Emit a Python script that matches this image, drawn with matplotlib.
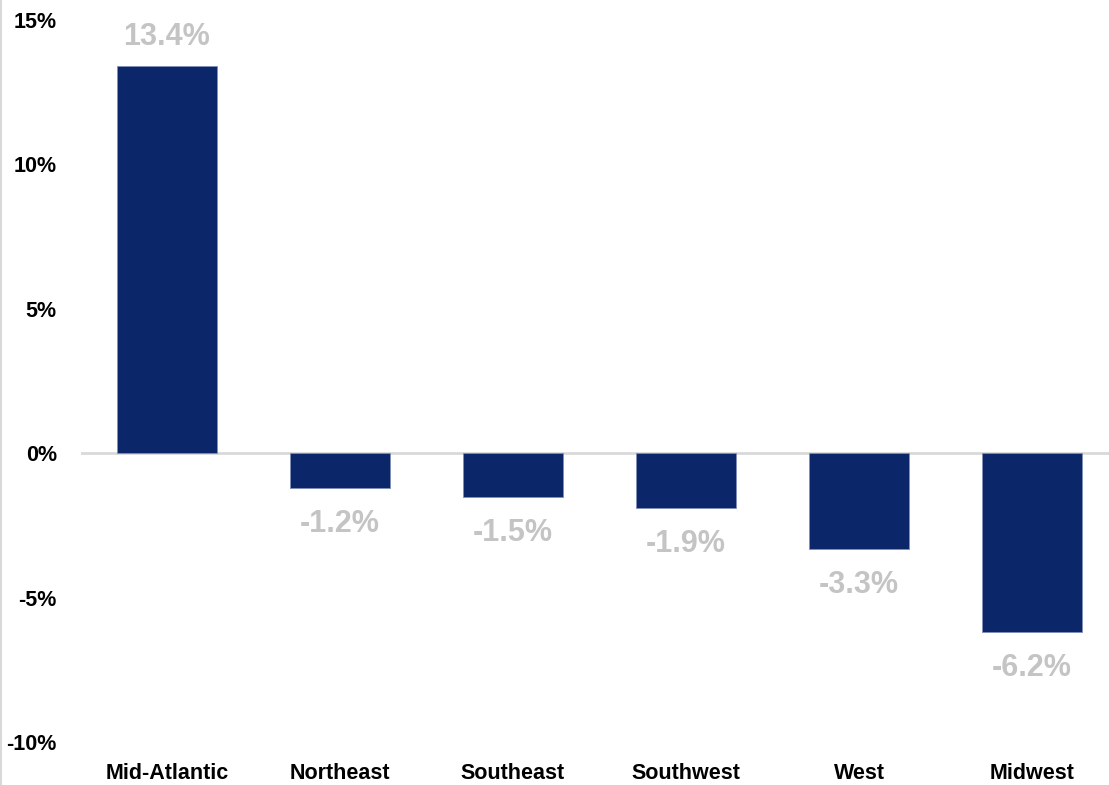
import matplotlib.pyplot as plt
from matplotlib.lines import Line2D

# data
regions = ["Mid-Atlantic", "Northeast", "Southeast", "Southwest", "West", "Midwest"]
changes = [13.4, -1.2, -1.5, -1.9, -3.3, -6.2]
y_ticks = [-10, -5, 0, 5, 10, 15]

plt.rcParams["font.family"] = ["Liberation Sans Narrow", "Liberation Sans", "DejaVu Sans"]

fig = plt.figure(figsize=(11.09, 7.85), dpi=100)
ax = fig.add_axes([80.5 / 1109, 43 / 785, 1038 / 1109, 722 / 785])

x = range(len(regions))
bars = ax.bar(x, changes, width=0.58, color="#0c2769", edgecolor="#7f8fb8",
              linewidth=0.6, zorder=2)

ax.axhline(0, color="#d9d9d9", linewidth=2, zorder=1)

# value labels
for bar, val in zip(bars, changes):
    cx = bar.get_x() + bar.get_width() / 2
    off = 21 if val >= 0 else -26
    ax.annotate(f"{val:.1f}%", (cx, val), xytext=(0, off), textcoords="offset points",
                ha="center", va="center", fontsize=22, fontweight="bold",
                color="#c4c4c4")

ax.set_xlim(-0.5, len(regions) - 0.5)
ax.set_ylim(-10, 15)
ax.set_yticks(y_ticks)
ax.set_yticklabels([f"{t}%" for t in y_ticks], fontsize=15.5, fontweight="bold")
ax.set_xticks(list(x))
ax.set_xticklabels(regions, fontsize=15.5, fontweight="bold")
ax.tick_params(axis="y", length=0, pad=17)
ax.tick_params(axis="x", length=0, pad=15)

for s in ax.spines.values():
    s.set_visible(False)

# thin gray border at the very left of the image
fig.add_artist(Line2D([1 / 1109, 1 / 1109], [0, 1], color="#d9d9d9", linewidth=1.5,
                      transform=fig.transFigure))

fig.savefig("out.png", dpi=100)
